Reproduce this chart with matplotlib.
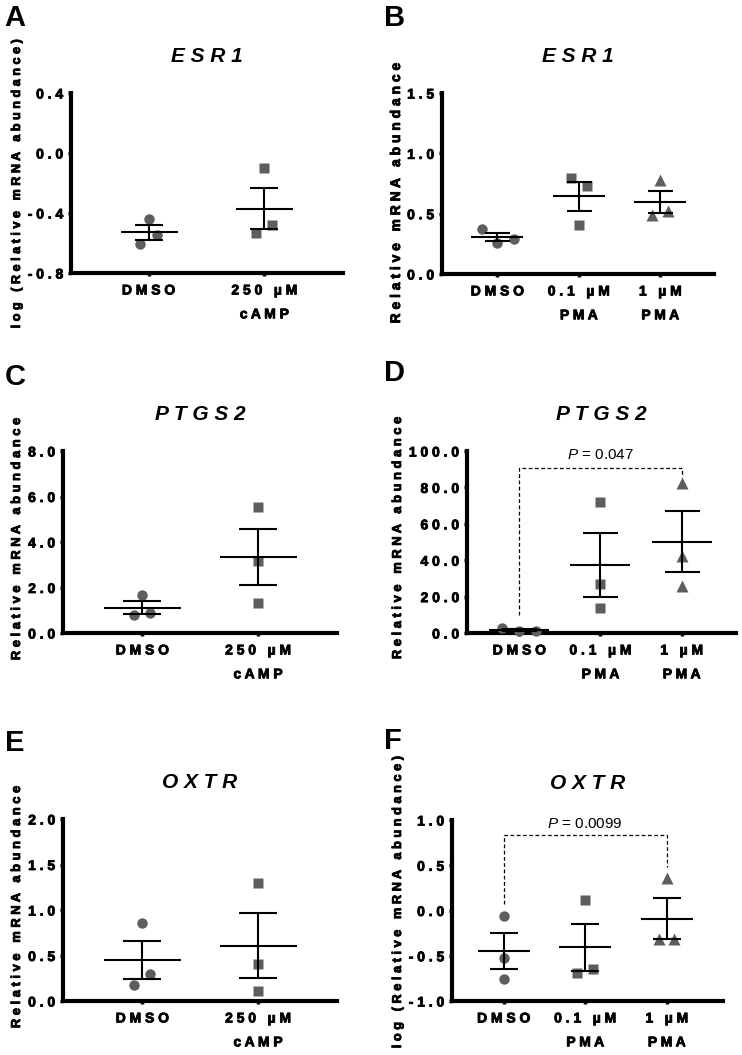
# Figura de 6 paneles: dispersion con media +/- SEM (estilo Prism)
import numpy as np
import matplotlib.pyplot as plt
import matplotlib.patheffects as pe

plt.rcParams['font.family'] = ['Liberation Sans', 'DejaVu Sans']
plt.rcParams['mathtext.fontset'] = 'custom'
plt.rcParams['mathtext.it'] = 'Liberation Sans:italic'
plt.rcParams['mathtext.rm'] = 'Liberation Sans'

# ----------------------------------------------
# Datos
# ----------------------------------------------
grupos_camp = ['DMSO', '250 µM\ncAMP']
grupos_pma = ['DMSO', '0.1 µM\nPMA', '1 µM\nPMA']

esr1_camp = [[-0.44, -0.544, -0.604], [-0.10, -0.482, -0.533]]
esr1_pma = [[0.371, 0.255, 0.291], [0.795, 0.731, 0.407], [0.78, 0.49, 0.518]]
ptgs2_camp = [[1.685, 0.78, 0.89], [5.54, 3.15, 1.33]]
ptgs2_pma = [[2.6, 0.9, 1.2], [71.8, 26.7, 13.9], [82.4, 42.1, 26.0]]
oxtr_camp = [[0.862, 0.301, 0.18], [1.30, 0.411, 0.106]]
oxtr_pma = [[-0.063, -0.524, -0.753], [0.114, -0.69, -0.642], [0.354, -0.31, -0.31]]

ticks_a = [-0.8, -0.4, 0.0, 0.4]
ticks_b = [0.0, 0.5, 1.0, 1.5]
ticks_c = [0.0, 2.0, 4.0, 6.0, 8.0]
ticks_d = [0.0, 20.0, 40.0, 60.0, 80.0, 100.0]
ticks_e = [0.0, 0.5, 1.0, 1.5, 2.0]
ticks_f = [-1.0, -0.5, 0.0, 0.5, 1.0]

# valores p: (texto, y izquierda, y superior, y derecha, y del texto)
p_d = ('0.047', 9.7, 90.9, 85.7, 98.0)
p_f = ('0.0099', 0.077, 0.834, 0.483, 0.956)

# desplazamiento horizontal de los puntos (para que no se encimen)
jit_a = [[0, 0.07, -0.07], [0, 0.07, -0.07]]
jit_b = [[-0.19, 0, 0.2], [-0.1, 0.095, 0], [0, -0.1, 0.1]]
jit_c = [[0, -0.075, 0.07], [0, 0, 0]]
jit_d = [[-0.21, 0, 0.2], [0, 0, 0], [0, 0, 0]]
jit_e = [[0, 0.07, -0.075], [0, 0, 0]]
jit_f = [[0, 0, 0], [0, -0.095, 0.1], [0, -0.1, 0.095]]

lab_log = 'log (Relative mRNA abundance)'
lab_rel = 'Relative mRNA abundance'

W, H = 742, 1055
gris = '#5e5e5e'
marcadores = ['o', 's', '^']
tam_marc = {'o': 7.5, 's': 6.8, '^': 8}
grueso = [pe.withStroke(linewidth=0.6, foreground='black')]


def espaciar(s):
    # simula el espaciado entre letras de la figura original
    return '\n'.join(' '.join(linea) for linea in s.split('\n'))


# letra, titulo, etiqueta y, grupos, datos, jitter, ticks, rect px (l, t, r, b), xlim,
# etiqueta (x px, y px, tam), ancho media px, ancho tope px, valor p, letra (x, y)
paneles = [
    ('A', 'ESR1', lab_log, grupos_camp, esr1_camp, jit_a, ticks_a, (71, 93, 343, 273), (-0.67, 1.68),
     (17, 184, 9.1), 57, 28, None, (4, 18)),
    ('B', 'ESR1', lab_rel, grupos_pma, esr1_pma, jit_b, ticks_b, (442, 93, 714, 274), (-0.68, 2.66),
     (396, 193, 10), 53, 25, None, (384, 18)),
    ('C', 'PTGS2', lab_rel, grupos_camp, ptgs2_camp, jit_c, ticks_c, (63, 451, 337, 633), (-0.686, 1.683),
     (17, 539, 9.3), 77, 38, None, (5, 377)),
    ('D', 'PTGS2', lab_rel, grupos_pma, ptgs2_pma, jit_d, ticks_d, (467, 451, 736, 633), (-0.645, 2.67),
     (398, 538, 9.3), 60, 35, p_d, (384, 373)),
    ('E', 'OXTR', lab_rel, grupos_camp, oxtr_camp, jit_e, ticks_e, (63, 819, 337, 1001), (-0.686, 1.683),
     (17, 907, 9.3), 77, 38, None, (5, 743)),
    ('F', 'OXTR', lab_log, grupos_pma, oxtr_pma, jit_f, ticks_f, (452, 820, 723, 1001), (-0.634, 2.69),
     (398, 903, 9.2), 53, 28, p_f, (384, 741)),
]

fig = plt.figure(figsize=(W / 100, H / 100), dpi=100)

for (letra, titulo, ylab, grupos, datos, jit, ticks, rect, xlim,
     lab, ancho_media, ancho_tope, pval, pos_letra) in paneles:
    l, t, r, b = rect
    ax = fig.add_axes([l / W, 1 - b / H, (r - l) / W, (b - t) / H])

    for i, valores in enumerate(datos):
        valores = np.array(valores)
        m = marcadores[i]
        xs = i + np.array(jit[i])
        ax.plot(xs, valores, m, color=gris, ms=tam_marc[m], mec='none',
                clip_on=False, zorder=3)
        media = valores.mean()
        sem = valores.std(ddof=1) / np.sqrt(len(valores))
        ax.errorbar(i, media, yerr=sem, fmt='none', ecolor='k', elinewidth=1.5,
                    capsize=ancho_tope * 0.72 / 2, capthick=1.5, zorder=4, clip_on=False)
        ax.plot(i, media, marker='_', ms=ancho_media * 0.72, mew=1.5, color='k',
                zorder=4, clip_on=False)

    if pval is not None:
        texto, y_izq, y_sup, y_der, y_txt = pval
        ult = len(grupos) - 1
        ax.plot([0, 0, ult, ult], [y_izq, y_sup, y_sup, y_der], color='k', lw=0.9,
                linestyle=(0, (3, 2)), clip_on=False, zorder=2)
        ax.text(ult / 2, y_txt, '$P$ = ' + texto, ha='center', va='center',
                fontsize=11, clip_on=False)

    ax.set_xlim(*xlim)
    ax.set_ylim(ticks[0], ticks[-1])
    ax.set_xticks(range(len(grupos)))
    ax.set_xticklabels([espaciar(g) for g in grupos], fontsize=10, fontweight='bold',
                       linespacing=1.9)
    ax.set_yticks(ticks)
    ax.set_yticklabels([espaciar(f'{v:.1f}') for v in ticks], fontsize=10, fontweight='bold')
    for etiqueta in ax.get_xticklabels() + ax.get_yticklabels():
        etiqueta.set_path_effects(grueso)

    for lado in ['top', 'right']:
        ax.spines[lado].set_visible(False)
    for lado in ['left', 'bottom']:
        ax.spines[lado].set_linewidth(3)
        ax.spines[lado].set_capstyle('projecting')
    ax.tick_params(axis='both', width=2.5, length=2.5, direction='out')
    ax.tick_params(axis='x', pad=5)
    ax.tick_params(axis='y', pad=3)

    ax.set_title(espaciar(titulo), fontsize=15, fontweight='bold', style='italic', pad=22)

    fig.text(lab[0] / W, 1 - lab[1] / H, espaciar(ylab), rotation=90, ha='center',
             va='center', fontsize=lab[2], fontweight='bold', path_effects=grueso)
    fig.text(pos_letra[0] / W, 1 - pos_letra[1] / H, letra, fontsize=21,
             fontweight='bold', ha='left', va='center')

fig.savefig('out.png', dpi=100)
